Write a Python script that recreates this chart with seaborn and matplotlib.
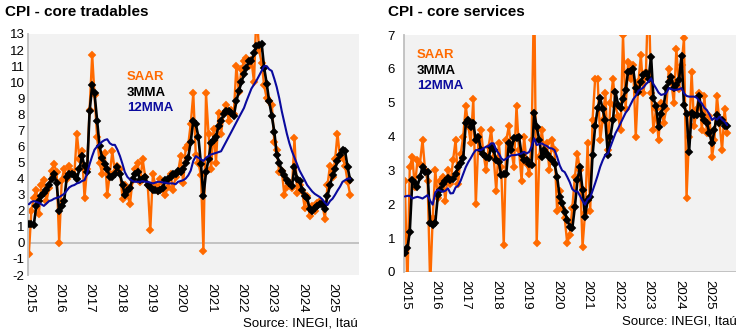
import numpy as np
import pandas as pd
import matplotlib
matplotlib.use("Agg")
import matplotlib.pyplot as plt
import matplotlib.dates as mdates
import seaborn as sns

# ---------------- data (monthly, Jan 2015 - Aug 2025) ----------------
start_month = "2015-01-01"
n_months = 128
year_ticks = ["2015", "2016", "2017", "2018", "2019", "2020",
              "2021", "2022", "2023", "2024", "2025"]

trad_saar = [
    -0.7, 2.0, 2.8, 3.3, 1.8, 3.6, 3.9, 2.6, 3.4, 4.5, 4.9, 4.4,
    0.0, 3.9, 4.6, 4.0, 4.8, 4.4, 4.2, 6.8, 5.2, 5.7, 2.8, 4.6,
    8.3, 11.7, 9.2, 6.6, 5.0, 4.3, 5.6, 3.0, 4.3, 5.7, 4.4, 4.8,
    4.6, 2.7, 3.6, 3.0, 2.4, 3.9, 4.6, 5.0, 3.8, 5.2, 4.1, 3.6,
    0.8, 4.3, 3.6, 3.2, 4.0, 3.3, 3.0, 3.5, 4.3, 3.3, 4.1, 4.4,
    5.4, 3.7, 5.9, 6.1, 7.4, 9.3, 5.5, 5.0, 4.2, -0.5, 9.3, 6.8,
    4.6, 7.1, 5.0, 8.1, 6.8, 8.1, 8.6, 7.6, 8.3, 8.0, 11.0, 9.4,
    10.8, 11.3, 11.5, 11.0, 11.4, 10.0, 14.5, 12.0, 11.2, 9.8, 9.0, 8.8,
    8.6, 6.3, 5.8, 4.4, 4.5, 3.0, 3.5, 3.75, 3.4, 6.5, 3.1, 3.6,
    3.2, 2.2, 2.9, 1.7, 2.3, 2.0, 2.5, 2.6, 2.4, 1.5, 3.6, 4.8,
    4.1, 5.2, 6.8, 5.3, 5.3, 4.8, 3.8, 3.0,
]
trad_3mma = [
    1.2, 1.15, 1.1, 2.3, 2.6, 2.9, 3.1, 3.3, 3.6, 4.0, 4.3, 3.7,
    2.0, 2.3, 2.6, 4.1, 4.3, 4.3, 4.2, 4.0, 4.6, 5.4, 4.8, 4.4,
    8.2, 9.8, 9.3, 7.6, 6.0, 5.3, 4.9, 4.6, 4.1, 4.1, 4.3, 4.7,
    4.3, 3.6, 3.0, 3.2, 3.4, 4.0, 4.3, 4.4, 3.9, 4.0, 4.1, 3.6,
    3.45, 3.3, 3.3, 3.2, 3.3, 3.4, 3.9, 4.0, 4.1, 4.3, 4.3, 4.5,
    4.4, 4.6, 5.0, 5.3, 6.3, 7.6, 7.4, 6.6, 4.9, 2.9, 4.4, 5.2,
    6.2, 6.4, 6.6, 7.3, 7.6, 8.0, 8.2, 8.2, 8.1, 7.9, 8.8, 9.45,
    10.0, 10.5, 10.9, 11.3, 11.3, 11.8, 12.25, 12.3, 12.4, 10.9, 9.9, 8.8,
    7.9, 6.9, 5.5, 5.0, 4.5, 4.2, 3.9, 3.75, 3.55, 4.7, 4.0, 3.85,
    3.3, 2.9, 2.8, 2.1, 2.0, 2.2, 2.3, 2.4, 2.45, 2.1, 2.9, 3.6,
    4.2, 4.6, 5.1, 5.5, 5.8, 5.7, 4.7, 3.9,
]
trad_12mma = [
    2.4, 2.55, 2.6, 2.55, 2.5, 2.4, 2.3, 2.45, 2.6, 2.65, 2.75, 2.8,
    2.85, 2.95, 3.05, 3.25, 3.45, 3.55, 3.6, 3.7, 3.75, 3.85, 3.9, 4.3,
    4.9, 5.4, 5.8, 6.0, 6.15, 6.3, 6.4, 6.45, 6.2, 6.1, 6.1, 5.8,
    5.4, 4.9, 4.4, 4.1, 3.95, 3.85, 3.8, 3.8, 3.8, 3.85, 3.8, 3.8,
    3.75, 3.7, 3.75, 3.8, 3.8, 3.75, 3.75, 3.7, 3.7, 3.7, 3.65, 3.8,
    3.85, 3.9, 4.0, 4.2, 4.5, 5.1, 5.4, 5.3, 5.2, 5.1, 5.3, 5.4,
    5.5, 5.55, 5.6, 5.65, 5.7, 6.0, 6.3, 6.6, 6.9, 7.2, 7.5, 7.8,
    8.1, 8.4, 8.8, 9.2, 9.6, 9.85, 10.1, 10.4, 10.7, 11.0, 11.0, 10.8,
    10.7, 10.2, 9.7, 9.0, 8.2, 7.5, 6.8, 6.2, 5.7, 5.3, 4.9, 4.5,
    4.2, 3.9, 3.6, 3.4, 3.2, 3.05, 2.95, 2.85, 2.7, 2.5, 2.35, 2.6,
    2.75, 3.0, 3.25, 3.5, 3.8, 3.9, 4.0, 4.0,
]

serv_saar = [
    2.7, -0.5, 3.1, 3.4, 2.5, 3.3, 3.2, 3.9, 3.0, 2.7, -0.4, 1.6,
    3.0, 2.2, 2.7, 2.8, 2.1, 3.0, 2.6, 3.3, 3.9, 2.6, 3.5, 4.0,
    4.9, 4.3, 3.8, 5.1, 2.0, 3.9, 4.2, 3.5, 3.0, 3.7, 4.2, 3.4,
    2.4, 3.8, 3.1, 0.8, 3.9, 4.3, 3.6, 3.1, 4.9, 3.6, 2.7, 4.0,
    3.2, 2.9, 3.9, 8.5, 0.85, 3.4, 4.2, 3.5, 3.8, 3.0, 3.9, 3.6,
    1.8, 2.4, 1.9, 1.6, 0.85, 1.1, 1.9, 2.8, 3.5, 3.0, 0.75, 1.75,
    3.8, 1.8, 4.5, 5.7, 5.7, 3.9, 4.5, 5.3, 3.6, 5.0, 5.7, 4.9,
    4.6, 4.2, 7.0, 4.8, 6.2, 5.7, 6.1, 4.0, 5.6, 6.4, 5.3, 5.9,
    8.5, 5.3, 4.2, 4.8, 3.9, 5.0, 4.4, 4.8, 6.0, 5.6, 5.0, 6.6,
    5.4, 6.1, 6.9, 2.2, 4.0, 5.9, 4.3, 4.8, 5.3, 4.2, 5.2, 4.1,
    4.6, 3.4, 3.9, 5.2, 4.4, 3.6, 4.8, 4.1,
]
serv_3mma = [
    0.55, 0.7, 1.19, 2.72, 2.62, 2.52, 2.81, 3.11, 2.96, 2.95, 1.44, 1.39,
    1.45, 2.27, 2.42, 2.6, 2.7, 2.77, 2.72, 2.75, 2.9, 3.1, 3.21, 3.36,
    4.39, 4.49, 4.29, 4.39, 3.9, 4.0, 3.6, 3.5, 3.4, 3.36, 3.7, 3.6,
    3.3, 3.25, 2.86, 2.9, 2.9, 3.8, 3.6, 3.95, 3.95, 4.0, 3.46, 3.3,
    3.3, 3.2, 3.16, 4.7, 4.29, 3.9, 3.4, 3.6, 3.5, 3.4, 3.3, 3.2,
    2.81, 2.22, 2.03, 1.78, 1.55, 1.34, 1.29, 1.93, 2.72, 3.11, 2.42, 1.63,
    2.13, 2.22, 3.46, 4.3, 4.83, 5.13, 4.8, 4.49, 3.46, 4.0, 4.49, 5.33,
    4.93, 4.83, 5.1, 5.38, 5.91, 5.95, 6.0, 5.42, 5.32, 5.6, 5.82, 5.87,
    5.7, 6.36, 5.13, 4.9, 4.29, 4.68, 4.9, 5.42, 5.6, 5.77, 5.42, 5.52,
    5.67, 6.38, 4.93, 4.68, 3.55, 4.7, 4.65, 4.65, 5.2, 4.65, 4.5, 4.4,
    4.1, 3.8, 4.2, 4.65, 4.4, 4.5, 4.3, 4.3,
]
serv_12mma = [
    2.23, 2.25, 2.25, 2.17, 2.2, 2.22, 2.2, 2.17, 2.22, 2.27, 2.1, 1.99,
    2.35, 2.43, 2.4, 2.37, 2.4, 2.47, 2.32, 2.33, 2.5, 2.55, 2.7, 2.9,
    3.1, 3.25, 3.36, 3.5, 3.6, 3.6, 3.6, 3.65, 3.7, 3.72, 3.8, 3.8,
    3.6, 3.5, 3.36, 3.3, 3.35, 3.4, 3.45, 3.45, 3.46, 3.48, 3.5, 3.55,
    3.5, 3.55, 3.7, 3.95, 3.75, 3.78, 3.8, 3.75, 3.72, 3.66, 3.65, 3.6,
    3.4, 3.15, 3.0, 2.95, 2.81, 2.65, 2.45, 2.38, 2.38, 2.25, 2.1, 1.99,
    2.14, 2.2, 2.4, 2.62, 2.85, 3.11, 3.3, 3.46, 3.5, 3.7, 3.9, 4.1,
    4.24, 4.4, 4.55, 4.7, 4.8, 4.95, 5.1, 5.2, 5.35, 5.4, 5.45, 5.55,
    5.62, 5.72, 5.55, 5.43, 5.3, 5.23, 5.25, 5.28, 5.43, 5.4, 5.38, 5.38,
    5.4, 5.43, 5.28, 5.2, 5.18, 5.18, 5.18, 5.15, 5.05, 4.98, 4.85, 4.78,
    4.65, 4.49, 4.55, 4.5, 4.59, 4.5, 4.44, 4.34,
]

# ---------------- style ----------------
sns.set_theme(style="white")
plt.rcParams["font.family"] = ["Liberation Sans", "DejaVu Sans"]
plt.rcParams["axes.unicode_minus"] = False

ORANGE = "#FF6A00"
BLACK = "#000000"
NAVY = "#0A0A9E"
AXIS = "#BFBFBF"
BG = "#F2F2F2"

W, H = 750, 336
fig = plt.figure(figsize=(W / 100, H / 100), dpi=100)
fig.patch.set_facecolor("white")


def fx(px):
    return px / W


def fy(py):
    return 1 - py / H


dates = pd.date_range(start_month, periods=n_months, freq="MS")


def panel(rect, saar, m3, m12, ylim, ypad, label_pos, title, title_x, source_x, source_y):
    ax = fig.add_axes(rect)
    df = pd.DataFrame({"date": dates, "saar": saar, "m3": m3, "m12": m12})
    ax.set_facecolor(BG)
    ax.axhline(0, color=AXIS, lw=1.3, zorder=1)
    sns.lineplot(data=df, x="date", y="saar", ax=ax, color=ORANGE, lw=1.7,
                 marker="D", markersize=4.4, markeredgecolor=ORANGE,
                 markeredgewidth=0.3, zorder=2)
    sns.lineplot(data=df, x="date", y="m3", ax=ax, color=BLACK, lw=1.9,
                 marker="D", markersize=3.8, markeredgecolor=BLACK,
                 markeredgewidth=0.3, zorder=3)
    sns.lineplot(data=df, x="date", y="m12", ax=ax, color=NAVY, lw=1.5, zorder=4)
    ax.set_ylim(*ylim)
    ax.set_yticks(np.arange(ylim[0], ylim[1] + 1, 1))
    ax.set_xlim(pd.Timestamp("2014-12-22"), pd.Timestamp("2025-11-15"))
    ax.set_xticks([pd.Timestamp(f"{y}-01-01") for y in year_ticks])
    ax.set_xticklabels(year_ticks, rotation=270, ha="center", va="top")
    ax.set_xlabel("")
    ax.set_ylabel("")
    ax.tick_params(axis="x", length=0, pad=6, labelsize=9.5, colors="black")
    ax.tick_params(axis="y", length=0, pad=ypad, labelsize=9.5, colors="black")
    for s in ["top", "right", "bottom"]:
        ax.spines[s].set_visible(False)
    ax.spines["left"].set_color(AXIS)
    ax.spines["left"].set_linewidth(1.3)
    ax.grid(False)
    lx, ly = label_pos
    for i, (txt, col) in enumerate([("SAAR", ORANGE), ("3MMA", BLACK), ("12MMA", NAVY)]):
        fig.text(fx(lx), fy(ly + i * 15.5), txt, color=col, fontsize=9.5,
                 fontweight="bold", ha="left", va="center")
    fig.text(fx(title_x), fy(12), title, fontsize=11, fontweight="bold",
             ha="left", va="center", color="black")
    fig.text(fx(source_x), fy(source_y), "Source: INEGI, Itaú", fontsize=9.5,
             ha="right", va="center", color="black")
    return ax


panel([fx(28), fy(275), 331 / W, 241 / H], trad_saar, trad_3mma, trad_12mma,
      (-2, 13), 2.5, (127, 77), "CPI - core tradables", 5, 358, 323)
panel([fx(404), fy(272), 332 / W, 237 / H], serv_saar, serv_3mma, serv_12mma,
      (0, 7), 6.5, (417, 55), "CPI - core services", 388, 737, 321)

fig.savefig("out.png", dpi=100, facecolor="white")
